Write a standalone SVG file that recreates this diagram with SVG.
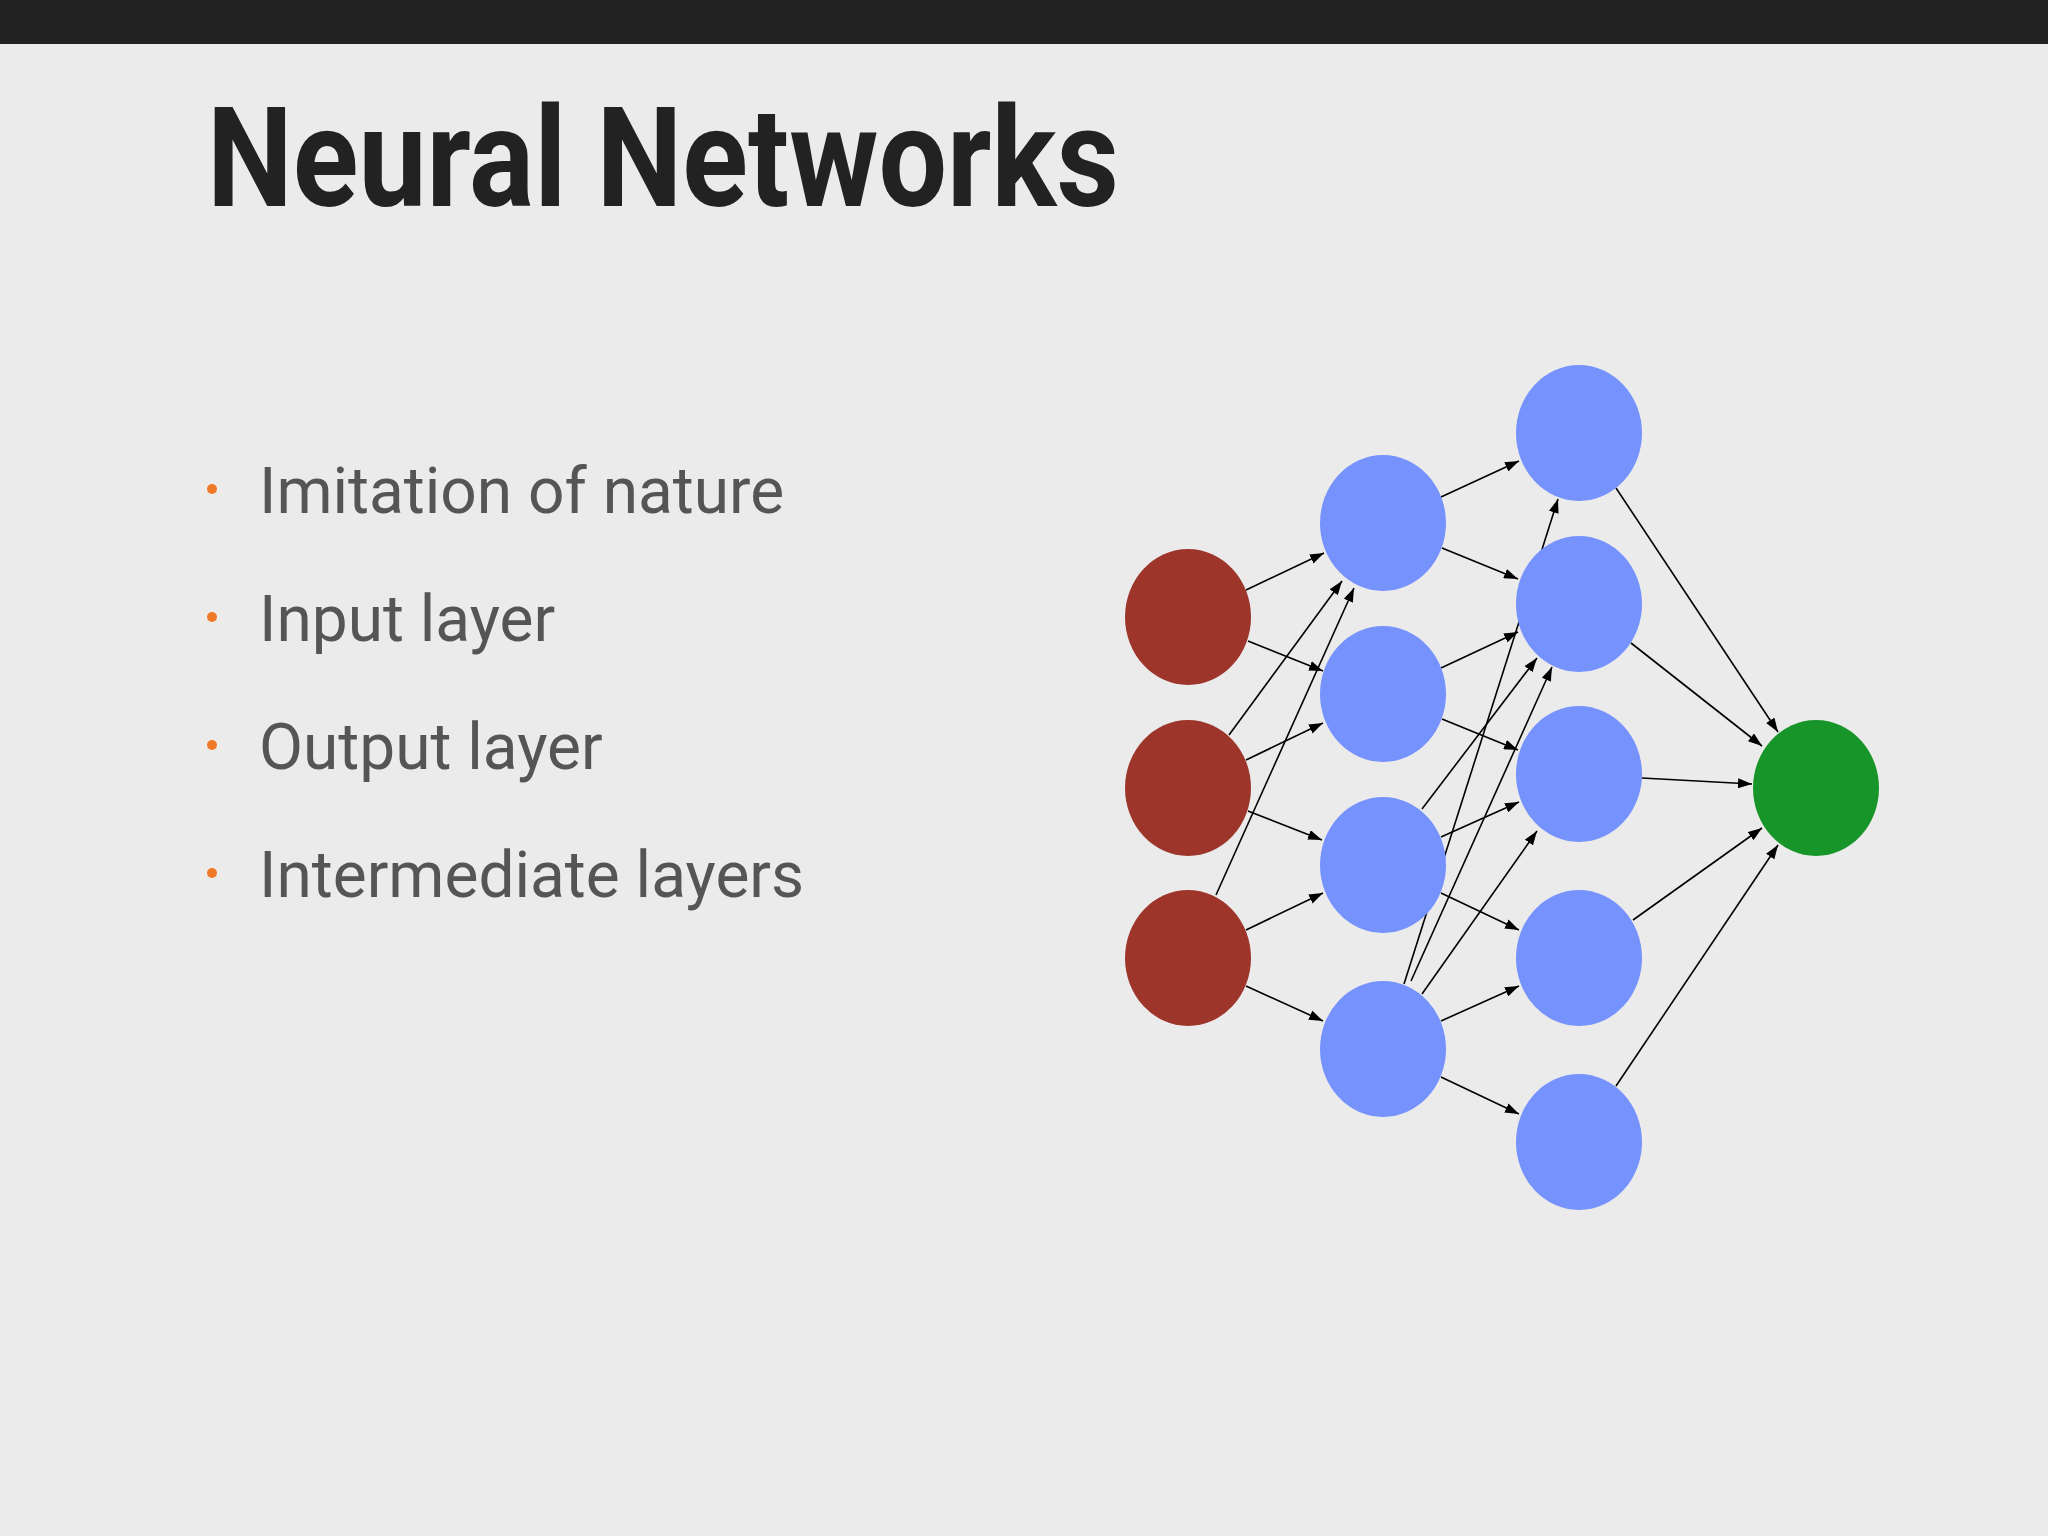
<svg xmlns="http://www.w3.org/2000/svg" width="2048" height="1536" viewBox="0 0 2048 1536">
<style>
.in{fill:#9e352b}.hid{fill:#7592fd}.out{fill:#179528}
.e{stroke:#000;stroke-width:1.6;fill:none;marker-end:url(#a)}
.b{font-family:Roboto,"Liberation Sans",sans-serif;font-size:64px;fill:#555}
</style>
<defs><marker id="a" markerUnits="userSpaceOnUse" markerWidth="14" markerHeight="10" refX="14" refY="5" orient="auto"><path d="M0,0L14,5L0,10z" fill="#000"/></marker></defs>
<rect width="2048" height="1536" fill="#ebebeb"/>
<rect width="2048" height="44" fill="#222"/>
<text x="207" y="206" font-family="Roboto,'Liberation Sans',sans-serif" font-weight="bold" font-size="140" fill="#222" textLength="912" lengthAdjust="spacingAndGlyphs">Neural Networks</text>
<g id="bullets">
<circle cx="212" cy="489" r="5" fill="#f07a2a"/><text class="b" x="259" y="513">Imitation of nature</text>
<circle cx="212" cy="617" r="5" fill="#f07a2a"/><text class="b" x="259" y="641">Input layer</text>
<circle cx="212" cy="745" r="5" fill="#f07a2a"/><text class="b" x="259" y="769">Output layer</text>
<circle cx="212" cy="873" r="5" fill="#f07a2a"/><text class="b" x="259" y="897">Intermediate layers</text>
</g>
<g id="connectors">
<line class="e" x1="1246" y1="590" x2="1324" y2="553"/>
<line class="e" x1="1248" y1="641" x2="1323" y2="671"/>
<line class="e" x1="1229" y1="735" x2="1342" y2="581"/>
<line class="e" x1="1246" y1="760" x2="1323" y2="723"/>
<line class="e" x1="1248" y1="811" x2="1322" y2="840"/>
<line class="e" x1="1216" y1="895" x2="1354" y2="588"/>
<line class="e" x1="1246" y1="930" x2="1323" y2="893"/>
<line class="e" x1="1246" y1="986" x2="1323" y2="1021"/>
<line class="e" x1="1441" y1="497" x2="1519" y2="461"/>
<line class="e" x1="1442" y1="548" x2="1518" y2="579"/>
<line class="e" x1="1441" y1="668" x2="1518" y2="632"/>
<line class="e" x1="1442" y1="719" x2="1518" y2="750"/>
<line class="e" x1="1422" y1="809" x2="1537" y2="658"/>
<line class="e" x1="1441" y1="837" x2="1519" y2="802"/>
<line class="e" x1="1441" y1="893" x2="1519" y2="930"/>
<line class="e" x1="1404" y1="984" x2="1558" y2="499"/>
<line class="e" x1="1411" y1="981" x2="1552" y2="667"/>
<line class="e" x1="1422" y1="994" x2="1537" y2="831"/>
<line class="e" x1="1441" y1="1021" x2="1519" y2="986"/>
<line class="e" x1="1441" y1="1077" x2="1519" y2="1114"/>
<line class="e" x1="1616" y1="488" x2="1778" y2="732"/>
<line class="e" x1="1631" y1="643" x2="1762" y2="746"/>
<line class="e" x1="1642" y1="778" x2="1752" y2="784"/>
<line class="e" x1="1633" y1="920" x2="1762" y2="828"/>
<line class="e" x1="1616" y1="1086" x2="1778" y2="845"/>
</g>
<g id="i1"><ellipse class="in" cx="1188" cy="617" rx="63" ry="68"/></g>
<g id="i2"><ellipse class="in" cx="1188" cy="788" rx="63" ry="68"/></g>
<g id="i3"><ellipse class="in" cx="1188" cy="958" rx="63" ry="68"/></g>
<g id="h1a"><ellipse class="hid" cx="1383" cy="523" rx="63" ry="68"/></g>
<g id="h1b"><ellipse class="hid" cx="1383" cy="694" rx="63" ry="68"/></g>
<g id="h1c"><ellipse class="hid" cx="1383" cy="865" rx="63" ry="68"/></g>
<g id="h1d"><ellipse class="hid" cx="1383" cy="1049" rx="63" ry="68"/></g>
<g id="h2a"><ellipse class="hid" cx="1579" cy="433" rx="63" ry="68"/></g>
<g id="h2b"><ellipse class="hid" cx="1579" cy="604" rx="63" ry="68"/></g>
<g id="h2c"><ellipse class="hid" cx="1579" cy="774" rx="63" ry="68"/></g>
<g id="h2d"><ellipse class="hid" cx="1579" cy="958" rx="63" ry="68"/></g>
<g id="h2e"><ellipse class="hid" cx="1579" cy="1142" rx="63" ry="68"/></g>
<g id="o"><ellipse class="out" cx="1816" cy="788" rx="63" ry="68"/></g>
</svg>
